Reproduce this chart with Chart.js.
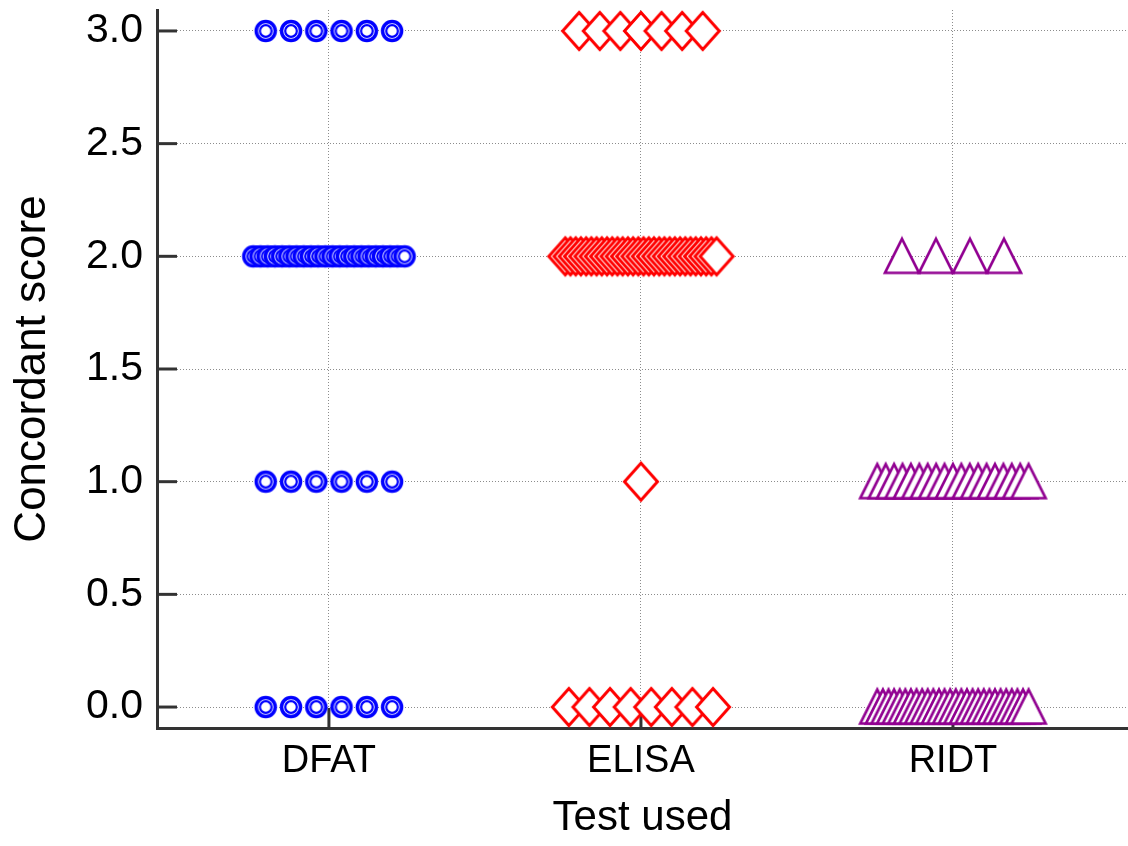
<!DOCTYPE html>
<html>
<head>
<meta charset="utf-8">
<script src="https://cdn.jsdelivr.net/npm/chart.js@4.4.0/dist/chart.umd.min.js"></script>
<style>
  html, body { margin: 0; padding: 0; background: #fff; }
  #wrap { width: 1128px; height: 846px; }
</style>
</head>
<body>
<div id="wrap"><canvas id="dotChart"></canvas></div>
<script>
// values: how many results sit at each score, per test
const categories = ['DFAT', 'ELISA', 'RIDT'];
const scoreLevels = [0, 1, 2, 3];
const dfatCounts = [6, 6, 22, 6];
const elisaCounts = [8, 1, 30, 7];
const ridtCounts = [28, 19, 4, 0];
const yTicks = [0, 0.5, 1, 1.5, 2, 2.5, 3];

const FONT = "'Liberation Sans', Arial, sans-serif";
const AXIS = '#333333';

// dot-plot layout: spread equal scores sideways around the category
function spread(catIndex, counts, step) {
  const maxSpan = 0.485;
  const pts = [];
  counts.forEach((n, i) => {
    if (!n) return;
    const s = n > 1 ? Math.min(step, maxSpan / (n - 1)) : 0;
    for (let k = 0; k < n; k++) {
      pts.push({ x: catIndex + (k - (n - 1) / 2) * s, y: scoreLevels[i] });
    }
  });
  return pts;
}

function makeMarker(w, h, draw) {
  const c = document.createElement('canvas');
  c.width = w;
  c.height = h;
  const ctx = c.getContext('2d');
  ctx.translate(w / 2, h / 2);
  draw(ctx);
  return c;
}

const ringMarker = makeMarker(28, 28, ctx => {
  ctx.fillStyle = '#fff';
  ctx.strokeStyle = '#0000ff';
  ctx.beginPath();
  ctx.arc(0, 0, 9.5, 0, Math.PI * 2);
  ctx.fill();
  ctx.lineWidth = 3.5;
  ctx.stroke();
  ctx.beginPath();
  ctx.arc(0, 0, 5.8, 0, Math.PI * 2);
  ctx.lineWidth = 2.2;
  ctx.stroke();
});

const diamondMarker = makeMarker(42, 44, ctx => {
  ctx.fillStyle = '#fff';
  ctx.strokeStyle = '#ff0000';
  ctx.lineWidth = 3;
  ctx.beginPath();
  ctx.moveTo(0, -18.5);
  ctx.lineTo(16.5, 0);
  ctx.lineTo(0, 18.5);
  ctx.lineTo(-16.5, 0);
  ctx.closePath();
  ctx.fill();
  ctx.stroke();
});

const triangleMarker = makeMarker(42, 42, ctx => {
  ctx.fillStyle = '#fff';
  ctx.strokeStyle = '#910091';
  ctx.lineWidth = 2.7;
  ctx.beginPath();
  ctx.moveTo(0, -17.5);
  ctx.lineTo(17, 16.5);
  ctx.lineTo(-17, 16.5);
  ctx.closePath();
  ctx.fill();
  ctx.stroke();
});

const innerTicks = {
  id: 'innerTicks',
  beforeDatasetsDraw(chart) {
    const { ctx, chartArea, scales: { x, y } } = chart;
    ctx.save();
    ctx.strokeStyle = AXIS;
    ctx.lineWidth = 3;
    y.ticks.forEach(t => {
      const py = y.getPixelForValue(t.value);
      ctx.beginPath();
      ctx.moveTo(chartArea.left, py);
      ctx.lineTo(chartArea.left + 20, py);
      ctx.stroke();
    });
    x.ticks.forEach(t => {
      const px = x.getPixelForValue(t.value);
      ctx.beginPath();
      ctx.moveTo(px, chartArea.bottom);
      ctx.lineTo(px, chartArea.bottom - 20);
      ctx.stroke();
    });
    ctx.restore();
  }
};

function initChart() {
  const ctx = document.getElementById('dotChart').getContext('2d');

  new Chart(ctx, {
    type: 'scatter',
    data: {
      datasets: [
        { label: 'DFAT', data: spread(0, dfatCounts, 0.081), pointStyle: ringMarker, pointRadius: 10, clip: false },
        { label: 'ELISA', data: spread(1, elisaCounts, 0.066), pointStyle: diamondMarker, pointRadius: 16, clip: false },
        { label: 'RIDT', data: spread(2, ridtCounts, 0.109), pointStyle: triangleMarker, pointRadius: 17, clip: false }
      ]
    },
    options: {
      responsive: true,
      maintainAspectRatio: false,
      animation: false,
      layout: { autoPadding: false, padding: { top: 10, right: 0, left: 0, bottom: 0 } },
      plugins: {
        legend: { display: false },
        tooltip: { enabled: true }
      },
      scales: {
        x: {
          type: 'linear',
          min: -0.551,
          max: 2.561,
          afterFit: s => {
            s.height = 118;
            s.paddingLeft = 0;
            s.paddingRight = 0;
          },
          afterBuildTicks: s => { s.ticks = categories.map((_, i) => ({ value: i })); },
          ticks: {
            padding: 11,
            color: '#000',
            maxRotation: 0,
            autoSkip: false,
            font: { family: FONT, size: 38 },
            callback: (v, i) => categories[i]
          },
          grid: { color: '#8c8c8c', lineWidth: 1, drawTicks: false, tickLength: 0 },
          border: { color: AXIS, width: 3, dash: [1, 2] },
          title: {
            display: true,
            text: 'Test used',
            color: '#000',
            font: { family: FONT, size: 42 },
            padding: { top: 0, bottom: 2 }
          }
        },
        y: {
          min: -0.093,
          max: 3.093,
          afterFit: s => {
            s.width = 157;
            s.paddingTop = 0;
            s.paddingBottom = 0;
          },
          afterBuildTicks: s => { s.ticks = yTicks.map(v => ({ value: v })); },
          ticks: {
            padding: 14,
            color: '#000',
            font: { family: FONT, size: 41 },
            callback: v => v.toFixed(1)
          },
          grid: { color: '#8c8c8c', lineWidth: 1, drawTicks: false, tickLength: 0 },
          border: { color: AXIS, width: 3, dash: [1, 2] },
          title: {
            display: true,
            text: 'Concordant score',
            color: '#000',
            font: { family: FONT, size: 44 },
            padding: { top: 6, bottom: 0 }
          }
        }
      }
    },
    plugins: [innerTicks]
  });
}

document.addEventListener('DOMContentLoaded', initChart);
</script>
</body>
</html>
